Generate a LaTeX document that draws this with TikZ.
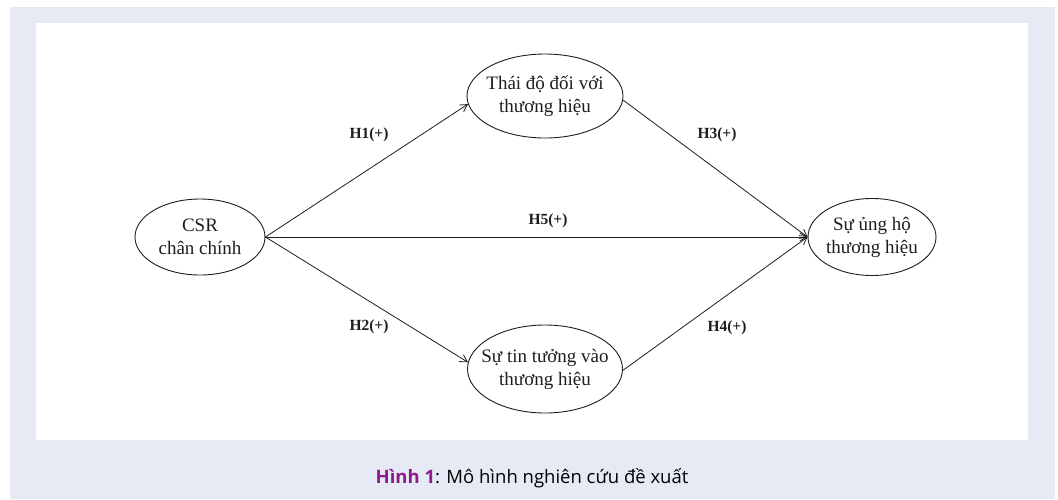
\documentclass[tikz,border=0pt]{standalone}
\usepackage{fontspec}
\setmainfont{Liberation Serif}
\newfontfamily\capfont{Open Sans}
\usetikzlibrary{shapes.geometric,arrows.meta}
\definecolor{bgblue}{RGB}{230,234,245}
\definecolor{capPurple}{RGB}{142,26,142}
\definecolor{ink}{RGB}{30,30,30}
\tikzset{
  construct/.style={draw=ink, line width=0.9pt, ellipse, inner xsep=-30pt, inner ysep=-20pt, align=center,
    font=\fontsize{19}{23}\selectfont, text=ink},
  hyp/.style={draw=ink, line width=0.8pt, -{Straight Barb[length=7pt,width=8pt,line width=0.8pt]}},
  hlabel/.style={font=\fontsize{15.5}{17}\selectfont\bfseries, text=ink, inner sep=0pt}
}
\begin{document}
\begin{tikzpicture}[x=1pt,y=-1pt]
\useasboundingbox (0,0) rectangle (1058,499);
\fill[bgblue] (10,7) rectangle (1055,499);
\fill[white] (36,23) rectangle (1028,440);
\node[construct, minimum width=130pt, minimum height=76pt] (csr) at (200,237) {CSR\\chân chính};
\node[construct, minimum width=156pt, minimum height=84pt] (thai) at (545,96) {Thái độ đối với\\thương hiệu};
\node[construct, minimum width=155pt, minimum height=88pt] (tin) at (545,369) {Sự tin tưởng vào\\thương hiệu};
\node[construct, minimum width=128pt, minimum height=77pt] (ung) at (872,237) {Sự ủng hộ\\thương hiệu};
\draw[hyp] (csr.east) -- (thai.186);
\draw[hyp] (csr.east) -- (ung.west);
\draw[hyp] (csr.east) -- (tin.175);
\draw[hyp] (thai.357) -- (ung.west);
\draw[hyp] (tin.359) -- (ung.west);
\node[hlabel] (l1) at (369,135) {H1(+)};
\node[hlabel] (l2) at (369,327) {H2(+)};
\node[hlabel] (l3) at (717,135) {H3(+)};
\node[hlabel] (l4) at (727,328) {H4(+)};
\node[hlabel] (l5) at (548,221) {H5(+)};
\node[font=\capfont\fontsize{18.5}{21}\selectfont, anchor=base, inner sep=0pt] (cap) at (532,483)
  {{\color{capPurple}\bfseries Hình 1}: Mô hình nghiên cứu đề xuất};
\end{tikzpicture}
\end{document}
